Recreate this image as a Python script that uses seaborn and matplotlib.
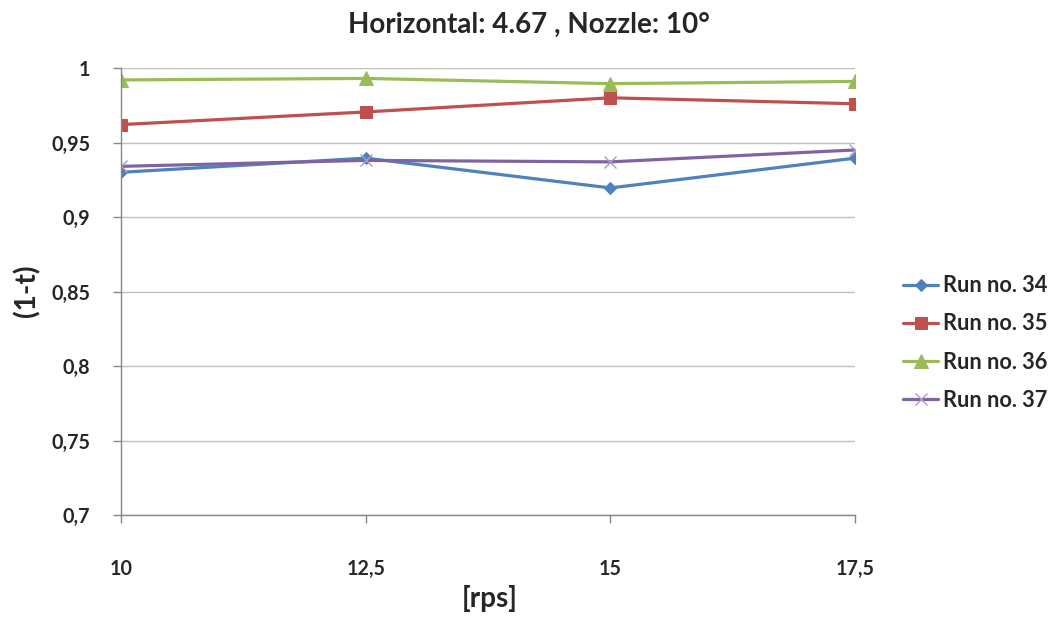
import matplotlib
matplotlib.use("Agg")
import matplotlib.pyplot as plt
import seaborn as sns
import pandas as pd
from matplotlib.ticker import FuncFormatter

rps = [10, 12.5, 15, 17.5]
run34 = [0.930, 0.9395, 0.9195, 0.9395]
run35 = [0.962, 0.9705, 0.980, 0.976]
run36 = [0.992, 0.993, 0.9895, 0.991]
run37 = [0.934, 0.938, 0.937, 0.945]
series_names = ["Run no. 34", "Run no. 35", "Run no. 36", "Run no. 37"]
colors = ["#4F81BD", "#C0504D", "#9BBB59", "#8064A2"]
markers = ["D", "s", "^", "x"]
y_ticks = [0.7, 0.75, 0.8, 0.85, 0.9, 0.95, 1.0]

sns.set_style("white")
plt.rcParams["font.family"] = ["Lato", "DejaVu Sans"]

df = pd.DataFrame({
    "rps": rps * 4,
    "value": run34 + run35 + run36 + run37,
    "run": sum([[n] * len(rps) for n in series_names], []),
})

W, H = 1055, 623
fig = plt.figure(figsize=(W / 100, H / 100), dpi=100)
renderer = fig.canvas.get_renderer()


def fit_size(s, target_px, base=20.0):
    """Font size (bold) at which string s is target_px wide."""
    t = fig.text(0, 0, s, fontsize=base, fontweight="bold")
    w = t.get_window_extent(renderer).width
    t.remove()
    return base * target_px / w


ax = fig.add_axes([121 / W, 1 - 515 / H, 734 / W, 447 / H])

marker_style = {
    "D": dict(markersize=6.2),
    "s": dict(markersize=8.3),
    "^": dict(markersize=9.5),
    "x": dict(markersize=9, markeredgewidth=1.0),
}
for name, col, mk in zip(series_names, colors, markers):
    sub = df[df["run"] == name]
    edge = "#A99BC7" if mk == "x" else col
    sns.lineplot(data=sub, x="rps", y="value", ax=ax, color=col, marker=mk,
                 linewidth=2.3, label=name, markeredgecolor=edge,
                 **marker_style[mk])

ax.set_xlim(10, 17.5)
ax.set_ylim(0.7, 1.0)
ax.set_xticks(rps)
ax.set_yticks(y_ticks)


def comma(v, _):
    return f"{v:g}".replace(".", ",")


tick_size = fit_size("10", 23)
ax.xaxis.set_major_formatter(FuncFormatter(comma))
ax.yaxis.set_major_formatter(FuncFormatter(comma))
ax.yaxis.grid(True, color="#BFBFBF", linewidth=1.0)
ax.set_axisbelow(True)
for s in ["top", "right"]:
    ax.spines[s].set_visible(False)
for s in ["left", "bottom"]:
    ax.spines[s].set_color("#868686")
    ax.spines[s].set_linewidth(1.0)
ax.tick_params(axis="x", direction="out", bottom=True, length=6, width=1.0,
               color="#868686", pad=26, labelsize=tick_size)
ax.tick_params(axis="y", direction="out", left=True, length=6, width=1.0,
               color="#868686", pad=16, labelsize=tick_size)
for lbl in ax.get_xticklabels() + ax.get_yticklabels():
    lbl.set_fontweight("bold")
ax.set_xlabel("")
ax.set_ylabel("")

title = "Horizontal: 4.67 , Nozzle: 10°"
fig.text(529 / W, 1 - 25 / H, title, ha="center", va="center",
         fontsize=fit_size(title, 362), fontweight="bold")
fig.text(490 / W, 1 - 598 / H, "[rps]", ha="center", va="center",
         fontsize=fit_size("[rps]", 56), fontweight="bold")
fig.text(27 / W, 1 - 291 / H, "(1-t)", ha="center", va="center", rotation=90,
         fontsize=fit_size("(1-t)", 53), fontweight="bold")

leg_size = fit_size("Run no. 34", 104)
leg_px = leg_size * 100 / 72
ax.legend(loc="center left", bbox_to_anchor=(903 / W, 1 - 343 / H),
          bbox_transform=fig.transFigure, frameon=False, borderpad=0,
          borderaxespad=0, handlelength=35 / leg_px, handletextpad=5 / leg_px,
          labelspacing=(40 - leg_px * 1.05) / leg_px,
          prop={"size": leg_size, "weight": "bold"})

fig.savefig("out.png", dpi=100)
